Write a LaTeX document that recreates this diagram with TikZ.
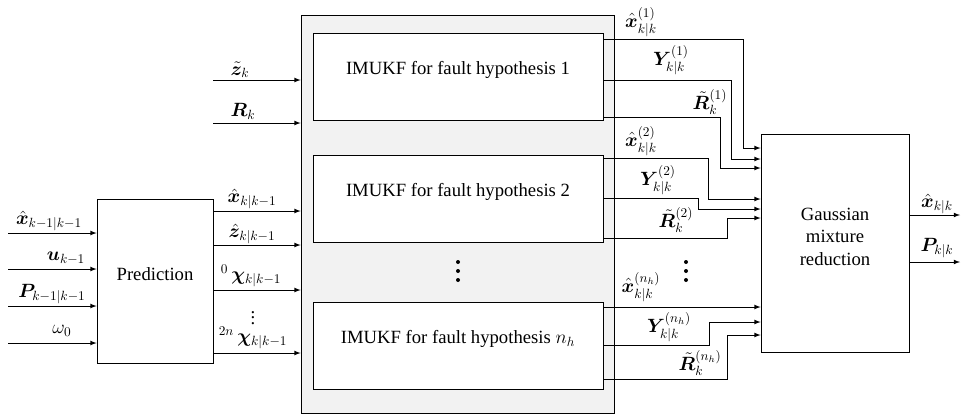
\documentclass[tikz,border=0pt]{standalone}
\usepackage{amsmath}
\usepackage{bm}
\usepackage{fontspec}
\setmainfont{Liberation Serif}
\usetikzlibrary{fit}
\definecolor{boxgray}{RGB}{242,242,242}
\tikzset{
	block/.style={
		draw,
		fill = white,
		inner sep = 0pt,
		align = center
	},
	group/.style={
		draw,
		fill = boxgray,
		inner sep = 0pt
	},
	lbl/.style={
		inner sep = 0pt
	},
}
\tikzset{>=latex}

\begin{document}
\begin{tikzpicture}[x=0.75pt, y=-0.75pt, font=\fontsize{14}{17}\selectfont, line width=0.6pt]
    \useasboundingbox (0,0) rectangle (961,415);
    % blocks
    \node[block, fit={(97,199) (213,363)}] (pred) {Prediction};
    \node[group, fit={(301,15.5) (614,413)}] (grp) {};
    \node[block, fit={(313,33) (603,120)}] (f1) {IMUKF for fault hypothesis 1};
    \node[block, fit={(313,155) (603,242)}] (f2) {IMUKF for fault hypothesis 2};
    \node[block, fit={(313,302) (603,389)}] (f3) {IMUKF for fault hypothesis $n_h$};
    \node[block, fit={(761,134) (909,352)}] (gmr) {Gaussian\\mixture\\reduction};
    % inputs of the prediction
    \foreach \y/\n in {233/1, 269/2, 306/3, 343/4}{
      \coordinate (in\n) at (8,\y);
      \draw[->] (in\n) -- (in\n -| pred.west);
    }
    \node[lbl] at (49,221) {$\hat{\bm{x}}_{k-1|k-1}$};
    \node[lbl] at (66,258) {$\bm{u}_{k-1}$};
    \node[lbl] at (52,294) {$\bm{P}_{k-1|k-1}$};
    \node[lbl] at (62,331) {$\omega_0$};
    % measurements
    \foreach \y/\n in {80/1, 123/2}{
      \coordinate (m\n) at (213,\y);
      \draw[->] (m\n) -- (m\n -| grp.west);
    }
    \node[lbl] at (240,70) {$\tilde{\bm{z}}_k$};
    \node[lbl] at (243,111) {$\bm{R}_k$};
    % prediction to filters
    \foreach \y in {211, 245, 290, 353}
      \draw[->] (pred.east |- 0,\y) -- (grp.west |- 0,\y);
    \node[lbl] at (252,199) {$\hat{\bm{x}}_{k|k-1}$};
    \node[lbl] at (252,234) {$\hat{\bm{z}}_{k|k-1}$};
    \node[lbl] at (251,276) {${}^{0}\,\bm{\chi}_{k|k-1}$};
    \node[lbl] at (253,314) {$\vdots$};
    \node[lbl] at (253,338) {${}^{2n}\,\bm{\chi}_{k|k-1}$};
    % filters to reduction
    \foreach \b/\sy/\tx/\ty in {f1/39/743/148, f1/80/731/159, f1/117/720/168,
        f2/158/708/199, f2/198/698/209, f2/238/727/218, f3/345/709/322, f3/379/727/335}
      \draw[->] (\b.east |- 0,\sy) -| (\tx,\ty) -- (gmr.west |- 0,\ty);
    \draw[->] (f3.east |- 0,307) -- (gmr.west |- 0,307);
    \node[lbl] at (641,22) {$\hat{\bm{x}}_{k|k}^{(1)}$};
    \node[lbl] at (671,60) {$\bm{Y}_{k|k}^{(1)}$};
    \node[lbl] at (710,102) {$\tilde{\bm{R}}_{k}^{(1)}$};
    \node[lbl] at (641,141) {$\hat{\bm{x}}_{k|k}^{(2)}$};
    \node[lbl] at (658,180) {$\bm{Y}_{k|k}^{(2)}$};
    \node[lbl] at (676,220) {$\tilde{\bm{R}}_{k}^{(2)}$};
    \node[lbl] at (641,287) {$\hat{\bm{x}}_{k|k}^{(n_h)}$};
    \node[lbl] at (669,327) {$\bm{Y}_{k|k}^{(n_h)}$};
    \node[lbl] at (700,363) {$\tilde{\bm{R}}_{k}^{(n_h)}$};
    % dots
    \foreach \y in {262, 271, 280}{
      \fill (458,\y) circle[radius=2];
      \fill (686,\y) circle[radius=2];
    }
    % outputs
    \foreach \y/\n in {215/1, 262/2}{
      \coordinate (out\n) at (960,\y);
      \draw[->] (gmr.east |- out\n) -- (out\n);
    }
    \node[lbl] at (937,204) {$\hat{\bm{x}}_{k|k}$};
    \node[lbl] at (937,248) {$\bm{P}_{k|k}$};
  \end{tikzpicture}
\end{document}
